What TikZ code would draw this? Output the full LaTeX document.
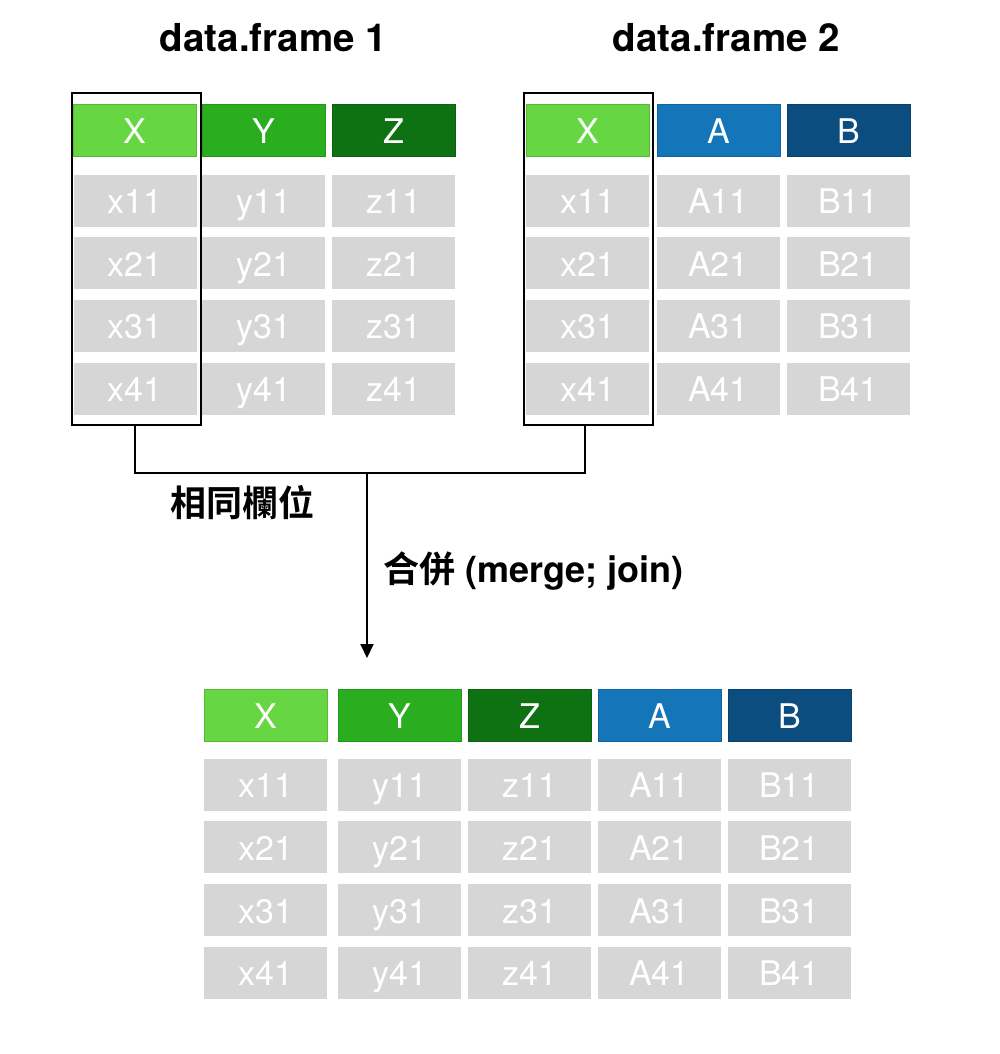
\documentclass[tikz,border=0pt]{standalone}
\usepackage{fontspec}
\setmainfont{TeX Gyre Heros}
\newfontfamily\cjk{Noto Sans CJK TC}[BoldFont={Noto Sans CJK TC Bold}]
\usetikzlibrary{arrows.meta}
\definecolor{colX}{HTML}{66D743}
\definecolor{colY}{HTML}{2AAE20}
\definecolor{colZ}{HTML}{0E7112}
\definecolor{colA}{HTML}{1476B9}
\definecolor{colB}{HTML}{0B4D7E}
\definecolor{cellgray}{HTML}{D6D6D6}
\tikzset{
  cell/.style={minimum width=123pt, minimum height=52pt, inner sep=0pt,
    text height=28pt, text depth=2pt,
    fill=cellgray, text=white, font=\fontsize{34}{40}\selectfont},
  head/.style={cell, draw=#1!85!black, line width=.6pt, fill=#1},
  colbox/.style={draw, line width=2.2pt, minimum width=129pt, minimum height=332pt, inner sep=0pt},
  link/.style={line width=2pt},
  title/.style={font=\fontsize{38.5}{44}\selectfont\bfseries},
  tag/.style={font=\fontsize{36}{42}\selectfont\bfseries, inner sep=0pt}
}
\begin{document}
\begin{tikzpicture}[x=1pt, y=-1pt]
  \useasboundingbox (0,0) rectangle (1000,1054);
  % titles
  \node[title] (t1) at (273.5,38) {data.frame 1};
  \node[title] (t2) at (726.5,38) {data.frame 2};
  % data.frame 1
  \foreach \name/\pre/\x in {X/x/135, Y/y/263.5, Z/z/393.5} {
    \node[head=col\name] (l\name) at (\x,130.5) {\name};
    \foreach \r in {1,...,4}
      \node[cell] (l\name\r) at (\x,{200.5+62.7*(\r-1)}) {\pre\r1};
  }
  % data.frame 2
  \foreach \name/\pre/\x in {X/x/587.5, A/A/718.5, B/B/848.5} {
    \node[head=col\name] (r\name) at (\x,130.5) {\name};
    \foreach \r in {1,...,4}
      \node[cell] (r\name\r) at (\x,{200.5+62.7*(\r-1)}) {\pre\r1};
  }
  % merged
  \foreach \name/\pre/\x in {X/x/265.5, Y/y/399.5, Z/z/529.5, A/A/659.5, B/B/789.5} {
    \node[head=col\name] (m\name) at (\x,715) {\name};
    \foreach \r in {1,...,4}
      \node[cell] (m\name\r) at (\x,{784.5+62.8*(\r-1)}) {\pre\r1};
  }
  % key columns
  \node[colbox] (lbox) at (136.5,259) {};
  \node[colbox] (rbox) at (588.5,259) {};
  \coordinate (join) at (367,473);
  \coordinate (tip) at (367,658);
  \draw[link] ([xshift=-2pt]lbox.south) |- (join) -| ([xshift=-4pt]rbox.south);
  \draw[link, -{Triangle[width=13pt,length=14pt]}] (join) -- (tip);
  \node[tag] (same) at (242,503) {\cjk 相同欄位};
  \node[tag, anchor=west] (merge) at (383,571) {{\cjk 合併} (merge; join)};
\end{tikzpicture}
\end{document}
